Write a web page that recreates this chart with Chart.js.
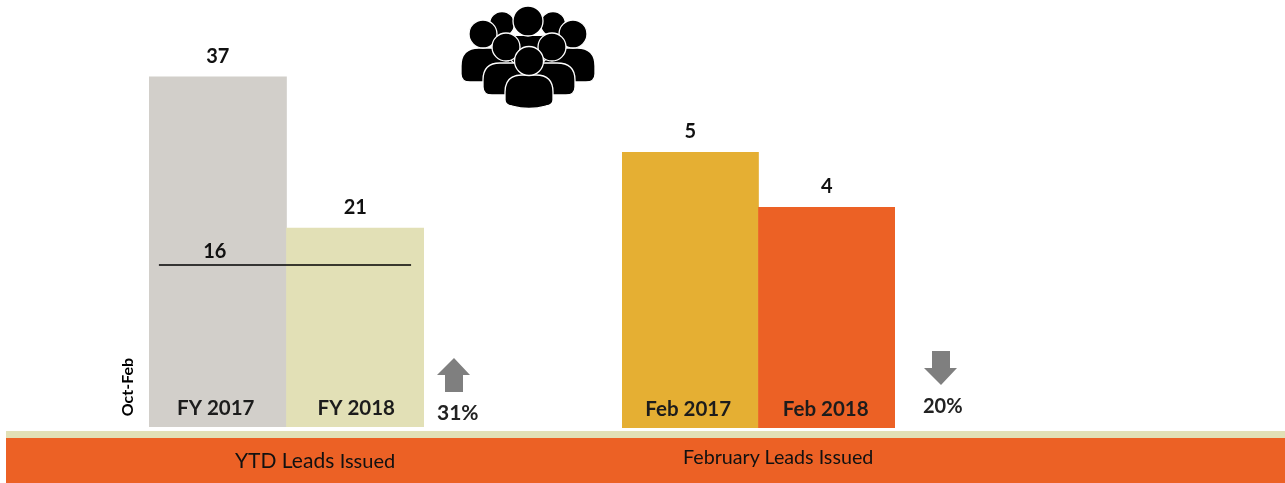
<!DOCTYPE html>
<html>
<head>
<meta charset="utf-8">
<script src="https://cdn.jsdelivr.net/npm/chart.js@4/dist/chart.umd.js"></script>
<style>
html,body{margin:0;padding:0;background:#fff;width:1285px;height:483px;overflow:hidden;font-family:Lato,"Open Sans",sans-serif}
canvas{position:absolute;left:0;top:0}
.band1{position:absolute;left:6px;top:431px;width:1279px;height:7px;background:#E2E0B6}
.band2{position:absolute;left:6px;top:438px;width:1279px;height:45px;background:#EC6125}
.t{position:absolute;white-space:nowrap;color:#111;line-height:1}
svg{position:absolute;left:0;top:0}
</style>
</head>
<body>
<div class="band1"></div>
<div class="band2"></div>
<canvas id="ytd" width="1285" height="483"></canvas>
<canvas id="feb" width="1285" height="483"></canvas>
<svg width="1285" height="483" viewBox="0 0 1285 483">
  <g fill="#000" stroke="#fff" stroke-width="1.3" style="filter:blur(0.4px)">
    <path d="M490,52 Q494,34 516,36 H540 Q562,34 566,52 V72 H490 Z" stroke="none"/>
    <circle cx="502" cy="24" r="12.5"/><circle cx="553" cy="24" r="12.5"/>
    <circle cx="528" cy="21" r="15"/>
    <path d="M461,74 V66 Q461,48 479,48 H500 L520,70 V82 L470,82 Q461,82 461,74 Z"/>
    <path d="M595,74 V66 Q595,48 577,48 H556 L536,70 V82 L586,82 Q595,82 595,74 Z"/>
    <circle cx="483" cy="34" r="14"/><circle cx="573" cy="34" r="14"/>
    <path d="M483,87 V80 Q483,63 500,63 H557 Q575,63 575,80 V87 Q575,95 566,95 H492 Q483,95 483,87 Z"/>
    <circle cx="506" cy="47" r="14"/><circle cx="552" cy="47" r="14"/>
    <path d="M505,100 V92 Q505,75 522,75 H536 Q553,75 553,92 V100 Q553,105 546,106 Q529,111 512,106 Q505,105 505,100 Z"/>
    <circle cx="529" cy="61" r="14.5"/>
  </g>
  <path d="M454,358 L470,375 L463,375 L463,392 L445,392 L445,375 L437,375 Z" fill="#7F7F7F"/>
  <path d="M941,385 L957,368 L950,368 L950,351 L932,351 L932,368 L924,368 Z" fill="#7F7F7F"/>
</svg>
<div class="t" style="left:127px;top:387px;font-size:16px;font-weight:700;color:#000;transform:translate(-50%,-50%) rotate(-90deg);transform-origin:center">Oct-Feb</div>
<div class="t" style="left:437px;top:401px;font-size:21px;font-weight:700;color:#222">31%</div>
<div class="t" style="left:923px;top:395px;font-size:20px;font-weight:700;color:#222">20%</div>
<div class="t" style="left:235px;top:449px;font-size:21px">YTD Leads <span style="font-size:20px">Issued</span></div>
<div class="t" style="left:683px;top:447px;font-size:19.7px">February Leads Issued</div>
<script>
const ytdCategories = ["FY 2017", "FY 2018"];
const ytdValues = [37, 21];
const ytdColors = ["#D2CFCA", "#E2E0B6"];
const refLineX = [0.036, 0.953];
const refLineY = [17.1, 17.1];
const refLineLabel = "16";
const febCategories = ["Feb 2017", "Feb 2018"];
const febValues = [5, 4];
const febColors = ["#E5AF33", "#EC6125"];

const FONT = 'Lato, "Open Sans", sans-serif';
const barLabels = {
  id: "barLabels",
  afterDatasetsDraw(chart) {
    const c = chart.ctx, xs = chart.scales.x, ys = chart.scales.y;
    const vals = chart.data.datasets.find(d => d.type === "bar").data;
    const shift = chart.options.catShift;
    c.save();
    c.textAlign = "center";
    c.textBaseline = "middle";
    vals.forEach((v, i) => {
      const x = xs.getPixelForValue(i);
      c.fillStyle = "#111";
      c.font = "700 20px " + FONT;
      c.fillText(String(v), x, ys.getPixelForValue(v) - 20.6);
      c.fillStyle = "#1c1c1c";
      c.font = "700 20.5px " + FONT;
      c.fillText(chart.data.labels[i], x + shift[i], ys.getPixelForValue(0) - 19);
    });
    if (chart.options.refLabel) {
      c.fillStyle = "#111";
      c.font = "700 20px " + FONT;
      c.fillText(chart.options.refLabel, xs.getPixelForValue(0) - 3, ys.getPixelForValue(refLineY[0]) - 14);
    }
    c.restore();
  }
};

function makeChart(id, labels, values, colors, yMax, padding, extra, refLabel, catShift) {
  const datasets = [{
    type: "bar", data: values, backgroundColor: colors, grouped: false,
    barPercentage: 1, categoryPercentage: 1, borderWidth: 0, order: 2
  }].concat(extra);
  const scales = {
    x: { type: "category", display: false, offset: true },
    y: { type: "linear", display: false, min: 0, max: yMax }
  };
  if (extra.length) scales.x2 = { type: "linear", display: false, min: 0, max: 1 };
  return new Chart(document.getElementById(id), {
    data: { labels, datasets },
    plugins: [barLabels],
    options: {
      responsive: false, animation: false, refLabel, catShift,
      layout: { padding },
      plugins: { legend: { display: false }, tooltip: { enabled: false } },
      scales
    }
  });
}

makeChart("ytd", ytdCategories, ytdValues, ytdColors, 45,
  { left: 149, right: 861, top: 1, bottom: 56 },
  [{
    type: "line", xAxisID: "x2", order: 1,
    data: refLineX.map((x, i) => ({ x, y: refLineY[i] })),
    borderColor: "#000", borderWidth: 1.5, pointRadius: 0, fill: false
  }], refLineLabel, [-2, 1]);

makeChart("feb", febCategories, febValues, febColors, 7,
  { left: 622, right: 390, top: 42, bottom: 55 }, [], null, [-2, -1]);
</script>
</body>
</html>
